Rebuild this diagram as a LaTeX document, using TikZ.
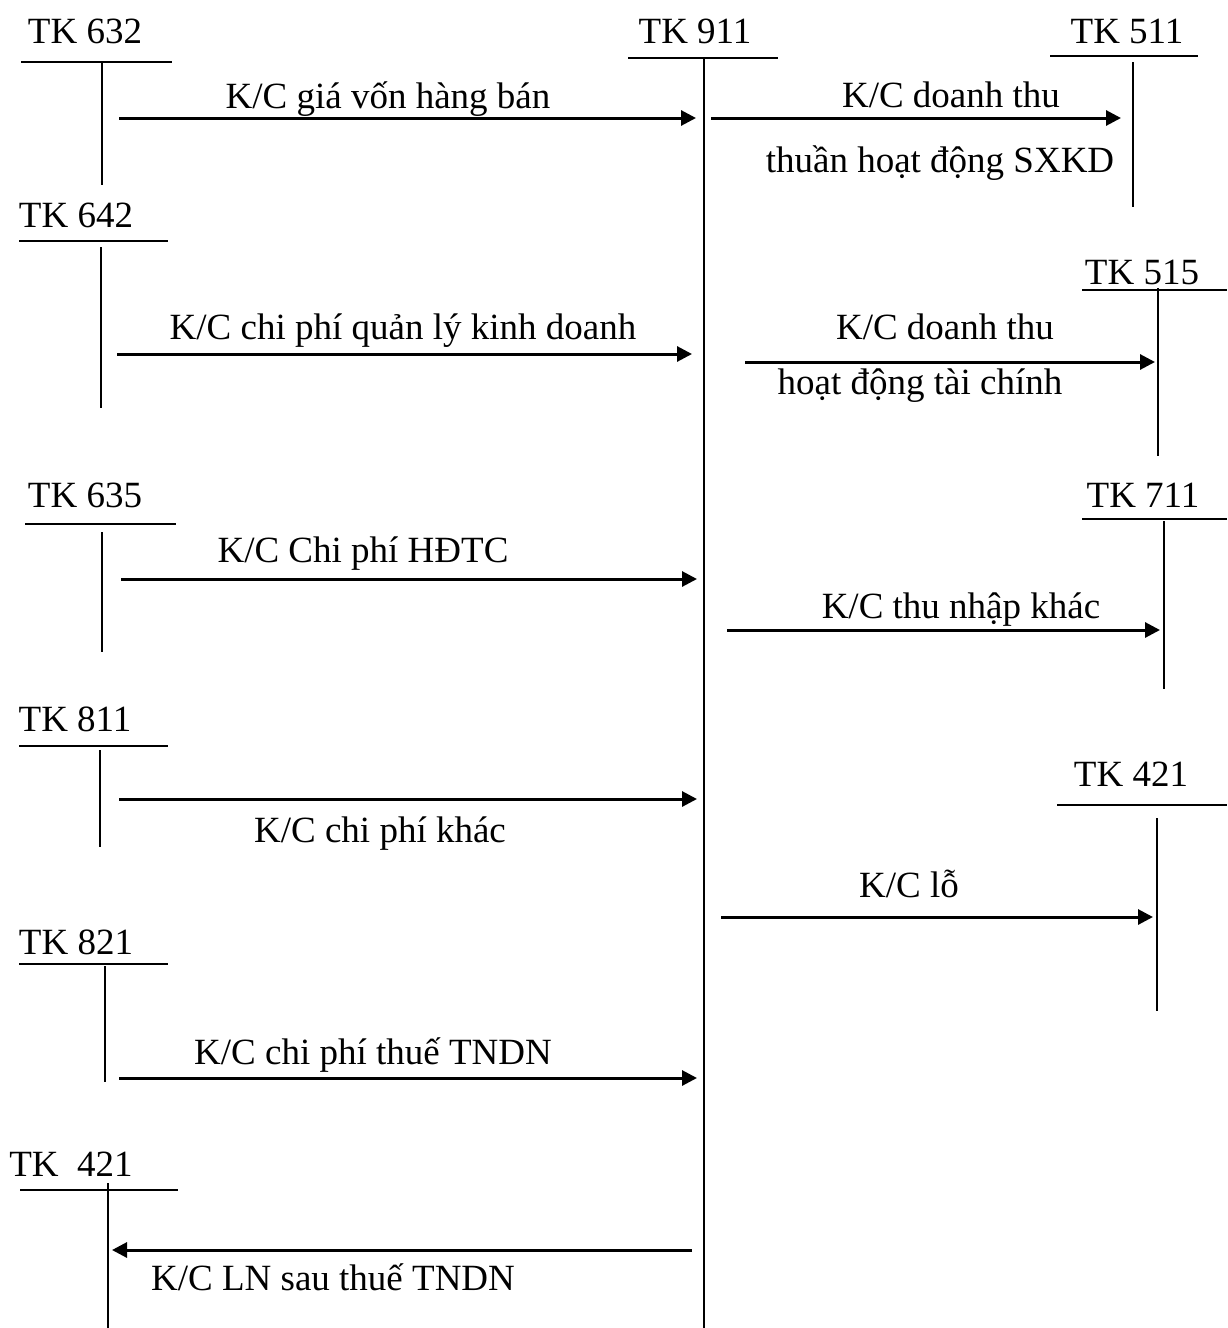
\documentclass[tikz,border=0pt]{standalone}
\usepackage{fontspec}
\setmainfont{Liberation Serif}
\usetikzlibrary{arrows.meta}
\begin{document}
\begin{tikzpicture}[x=1pt,y=-1pt,
  lbl/.style={anchor=base,inner sep=0pt,font=\fontsize{37}{44}\selectfont},
  tline/.style={line width=2pt},
  flow/.style={line width=3pt,-{Triangle[length=15pt,width=15pt]}}]
\useasboundingbox (0,0) rectangle (1227,1328);
% ---------- TK 911 (central) ----------
\node[lbl] (t911) at (695,43) {TK 911};
\draw[tline] (628,58) -- (778,58);
\draw[tline] (704,58) -- (704,1328);
% ---------- left accounts ----------
\node[lbl] (t632) at (85,43) {TK 632};
\draw[tline] (21,62) -- (172,62);
\draw[tline] (102,62) -- (102,185);

\node[lbl] (t642) at (76,227) {TK 642};
\draw[tline] (19,241) -- (168,241);
\draw[tline] (101,247) -- (101,408);

\node[lbl] (t635) at (85,507) {TK 635};
\draw[tline] (25,524) -- (176,524);
\draw[tline] (102,532) -- (102,652);

\node[lbl] (t811) at (75,731) {TK 811};
\draw[tline] (19,746) -- (168,746);
\draw[tline] (100,750) -- (100,847);

\node[lbl] (t821) at (76,954) {TK 821};
\draw[tline] (19,964) -- (168,964);
\draw[tline] (105,966) -- (105,1082);

\node[lbl] (t421l) at (71,1176) {TK\ \ 421};
\draw[tline] (20,1190) -- (178,1190);
\draw[tline] (108,1183) -- (108,1328);
% ---------- right accounts ----------
\node[lbl] (t511) at (1127,43) {TK 511};
\draw[tline] (1050,56) -- (1198,56);
\draw[tline] (1133,62) -- (1133,207);

\node[lbl] (t515) at (1142,284) {TK 515};
\draw[tline] (1082,290) -- (1227,290);
\draw[tline] (1158,288) -- (1158,456);

\node[lbl] (t711) at (1143,507) {TK 711};
\draw[tline] (1082,519) -- (1227,519);
\draw[tline] (1164,521) -- (1164,689);

\node[lbl] (t421r) at (1131,786) {TK 421};
\draw[tline] (1057,805) -- (1227,805);
\draw[tline] (1157,818) -- (1157,1011);
% ---------- connector end points ----------
\coordinate (a1s) at (119,118);  \coordinate (a1e) at (696,118);
\coordinate (a2s) at (711,118);  \coordinate (a2e) at (1121,118);
\coordinate (a3s) at (117,354);  \coordinate (a3e) at (692,354);
\coordinate (a4s) at (745,362);  \coordinate (a4e) at (1155,362);
\coordinate (a5s) at (121,579);  \coordinate (a5e) at (697,579);
\coordinate (a6s) at (727,630);  \coordinate (a6e) at (1160,630);
\coordinate (a7s) at (119,799);  \coordinate (a7e) at (697,799);
\coordinate (a8s) at (721,917);  \coordinate (a8e) at (1153,917);
\coordinate (a9s) at (119,1078); \coordinate (a9e) at (697,1078);
\coordinate (a10s) at (692,1250); \coordinate (a10e) at (112,1250);
% ---------- connectors ----------
\draw[flow] (a1s) -- (a1e);
\draw[flow] (a2s) -- (a2e);
\draw[flow] (a3s) -- (a3e);
\draw[flow] (a4s) -- (a4e);
\draw[flow] (a5s) -- (a5e);
\draw[flow] (a6s) -- (a6e);
\draw[flow] (a7s) -- (a7e);
\draw[flow] (a8s) -- (a8e);
\draw[flow] (a9s) -- (a9e);
\draw[flow] (a10s) -- (a10e);
% ---------- labels ----------
\node[lbl] (l1) at (388,108) {K/C giá vốn hàng bán};
\node[lbl] (l2a) at (951,107) {K/C doanh thu};
\node[lbl] (l2b) at (940,172) {thuần hoạt động SXKD};
\node[lbl] (l3) at (403,339) {K/C chi phí quản lý kinh doanh};
\node[lbl] (l4a) at (945,339) {K/C doanh thu};
\node[lbl] (l4b) at (920,394) {hoạt động tài chính};
\node[lbl] (l5) at (363,562) {K/C Chi phí HĐTC};
\node[lbl] (l6) at (961,618) {K/C thu nhập khác};
\node[lbl] (l7) at (380,842) {K/C chi phí khác};
\node[lbl] (l8) at (909,897) {K/C lỗ};
\node[lbl] (l9) at (373,1064) {K/C chi phí thuế TNDN};
\node[lbl] (l10) at (333,1290) {K/C LN sau thuế TNDN};
\end{tikzpicture}
\end{document}
